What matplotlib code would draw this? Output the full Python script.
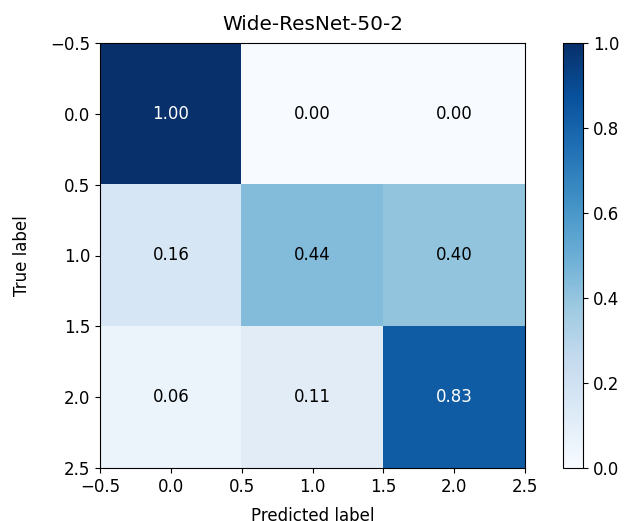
import matplotlib
matplotlib.use("Agg")
import matplotlib.pyplot as plt
import numpy as np

title = "Wide-ResNet-50-2"
xlabel = "Predicted label"
ylabel = "True label"
cm = np.array([[1.00, 0.00, 0.00],
               [0.16, 0.44, 0.40],
               [0.06, 0.11, 0.83]])

plt.rcParams['font.size'] = 12
fig = plt.figure(figsize=(6.27, 5.21), dpi=100)
ax = fig.add_axes([98/627, 53/521, 429/627, 425/521])
im = ax.imshow(cm, cmap='Blues', vmin=0, vmax=1)
cax = fig.add_axes([563/627, 53/521, 20/627, 425/521])
fig.colorbar(im, cax=cax)
ax.set_title(title, pad=9)
ax.set_xlabel(xlabel, labelpad=8)
ax.set_ylabel(ylabel, labelpad=14)
for i in range(cm.shape[0]):
    for j in range(cm.shape[1]):
        v = cm[i, j]
        ax.text(j, i, f"{v:.2f}", ha='center', va='center',
                color='white' if v > 0.5 else 'black')
fig.savefig("out.png", dpi=100)
